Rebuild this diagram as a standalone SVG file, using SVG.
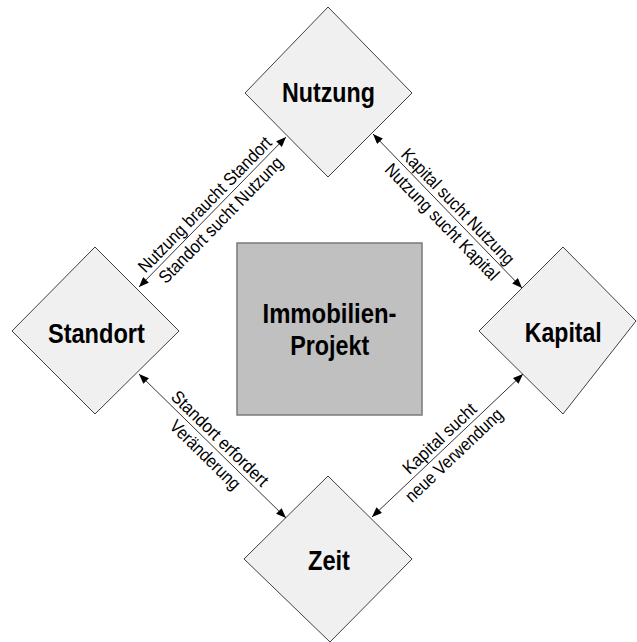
<svg xmlns="http://www.w3.org/2000/svg" width="637" height="642" viewBox="0 0 637 642">
  <defs>
    <style>
      .node { fill: #f0f0f0; stroke: #404040; stroke-width: 1; }
      .core { fill: #c0c0c0; stroke: #7a7a7a; stroke-width: 1.5; }
      .title { font-family: "Liberation Sans", Arial, sans-serif; font-weight: bold; font-size: 27px; fill: #000; text-anchor: middle; }
      .edge { stroke: #333; stroke-width: 1; fill: none; marker-start: url(#arrow); marker-end: url(#arrow); }
      .lbl { font-family: "Liberation Sans", Arial, sans-serif; font-size: 18px; fill: #000; text-anchor: middle; }
    </style>
    <marker id="arrow" viewBox="0 0 10 8" refX="10" refY="4" markerWidth="10" markerHeight="8" markerUnits="userSpaceOnUse" orient="auto-start-reverse">
      <path d="M0,0 L10,4 L0,8 Z" fill="#000"/>
    </marker>
  </defs>

  <rect width="637" height="642" fill="#fff"/>

  <!-- central project box -->
  <g id="projekt">
    <rect class="core" x="237" y="243" width="185" height="172"/>
    <text class="title" x="329.5" y="322.7" textLength="134" lengthAdjust="spacingAndGlyphs">Immobilien-</text>
    <text class="title" x="329.7" y="355" textLength="79" lengthAdjust="spacingAndGlyphs">Projekt</text>
  </g>

  <!-- four factor nodes -->
  <g id="nutzung">
    <polygon class="node" points="328,7 412,93 328,177 245,93"/>
    <text class="title" x="328.5" y="101.7" textLength="93" lengthAdjust="spacingAndGlyphs">Nutzung</text>
  </g>
  <g id="standort">
    <polygon class="node" points="95,247 179,331 95,414 12,331"/>
    <text class="title" x="96.4" y="342.5" textLength="97" lengthAdjust="spacingAndGlyphs">Standort</text>
  </g>
  <g id="kapital">
    <polygon class="node" points="563,247 636,321 563,414 479,331"/>
    <text class="title" x="563.3" y="341.7" textLength="77" lengthAdjust="spacingAndGlyphs">Kapital</text>
  </g>
  <g id="zeit">
    <polygon class="node" points="328,476 412,559 330,642 244,559"/>
    <text class="title" x="329" y="570" textLength="42" lengthAdjust="spacingAndGlyphs">Zeit</text>
  </g>

  <!-- connectors with their labels -->
  <g id="connectors">
    <line class="edge" x1="139" y1="287" x2="286" y2="137"/>
    <line class="edge" x1="373" y1="134" x2="522" y2="288"/>
    <line class="edge" x1="139" y1="374" x2="286" y2="518"/>
    <line class="edge" x1="372" y1="517" x2="523" y2="374"/>

    <g transform="translate(212.5,212) rotate(-45.6)">
      <text class="lbl" x="0" y="-4.5" textLength="182" lengthAdjust="spacingAndGlyphs">Nutzung braucht Standort</text>
      <text class="lbl" x="0" y="17.5" textLength="169" lengthAdjust="spacingAndGlyphs">Standort sucht Nutzung</text>
    </g>
    <g transform="translate(447.5,211) rotate(45.9)">
      <text class="lbl" x="4" y="-4.5" textLength="154" lengthAdjust="spacingAndGlyphs">Kapital sucht Nutzung</text>
      <text class="lbl" x="4" y="17.5" textLength="155" lengthAdjust="spacingAndGlyphs">Nutzung sucht Kapital</text>
    </g>
    <g transform="translate(212.5,446) rotate(44.4)">
      <text class="lbl" x="0" y="-4.5" textLength="128" lengthAdjust="spacingAndGlyphs">Standort erfordert</text>
      <text class="lbl" x="1" y="17.5" textLength="91" lengthAdjust="spacingAndGlyphs">Veränderung</text>
    </g>
    <g transform="translate(447.5,445.5) rotate(-43.4)">
      <text class="lbl" x="-1" y="-4.5" textLength="94" lengthAdjust="spacingAndGlyphs">Kapital sucht</text>
      <text class="lbl" x="-2" y="17.5" textLength="127" lengthAdjust="spacingAndGlyphs">neue Verwendung</text>
    </g>
  </g>
</svg>
